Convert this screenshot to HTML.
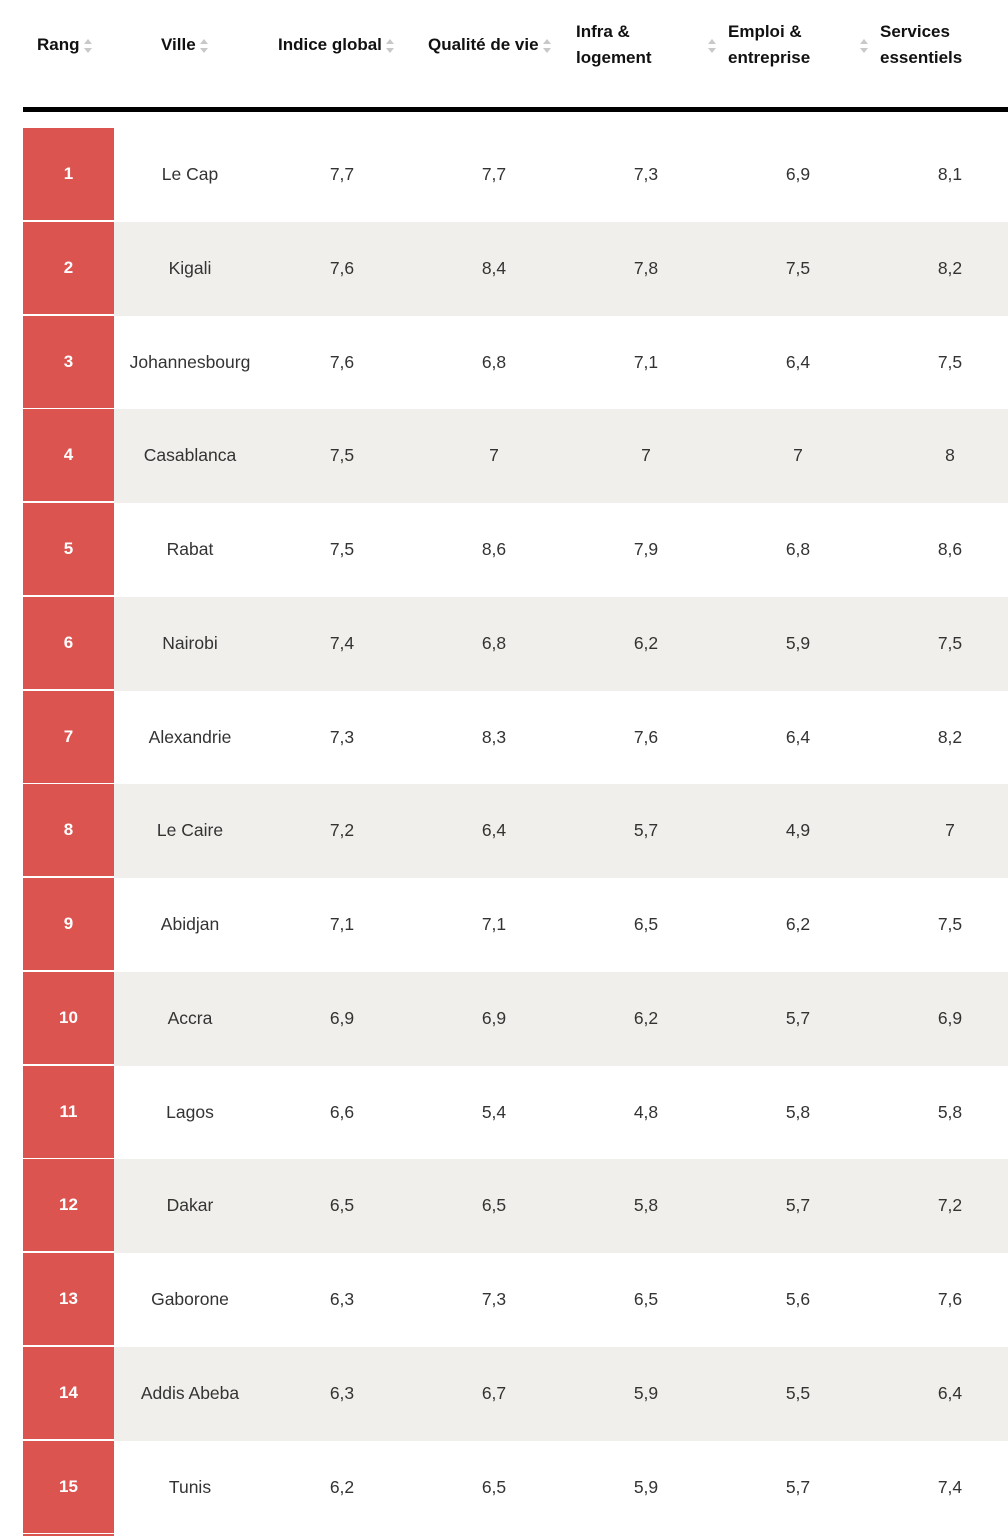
<!DOCTYPE html>
<html style="width:1008px;height:1536px;overflow:hidden"><head><meta charset="utf-8"><style>
*{margin:0;padding:0;box-sizing:border-box}
body{width:1008px;height:1536px;background:#fff;position:relative;overflow:hidden;font-family:"Liberation Sans",sans-serif}
.h{position:absolute;font-weight:bold;font-size:17px;color:#111;line-height:26px}
.s{display:inline-block;width:8px;height:14px;position:relative;vertical-align:middle;margin-left:4px}
.s:before,.s:after{content:"";position:absolute;left:0;border-left:4px solid transparent;border-right:4px solid transparent}
.s:before{top:0;border-bottom:5px solid #c8c8c8}
.s:after{bottom:0;border-top:5px solid #c8c8c8}
.row{position:absolute;left:0;width:1008px;height:94px}
.g{position:absolute;left:114px;right:0;top:0;height:94px;background:#f0efeb}
.r{position:absolute;left:23px;width:91px;top:0;height:92px;background:#dc5450;color:#fff;font-weight:bold;font-size:17px;text-align:center;line-height:92px}
.c{position:absolute;top:0;line-height:92px;font-size:17.5px;color:#333;text-align:center;width:152px}
</style></head><body>
<div class="h" style="left:37px;top:32px">Rang<span class="s"></span></div>
<div class="h" style="left:161px;top:32px">Ville<span class="s"></span></div>
<div class="h" style="left:278px;top:32px">Indice global<span class="s"></span></div>
<div class="h" style="left:428px;top:32px">Qualité de vie<span class="s"></span></div>
<div class="h" style="left:576px;top:19px">Infra &amp;<br>logement</div>
<span class="s" style="position:absolute;left:704px;top:39px"></span>
<div class="h" style="left:728px;top:19px">Emploi &amp;<br>entreprise</div>
<span class="s" style="position:absolute;left:856px;top:39px"></span>
<div class="h" style="left:880px;top:19px">Services<br>essentiels</div>
<div style="position:absolute;left:23px;right:0;top:107px;height:5px;background:#000"></div>
<div id="t"></div>
<script>
var d=[["Le Cap","7,7","7,7","7,3","6,9","8,1"],["Kigali","7,6","8,4","7,8","7,5","8,2"],["Johannesbourg","7,6","6,8","7,1","6,4","7,5"],["Casablanca","7,5","7","7","7","8"],["Rabat","7,5","8,6","7,9","6,8","8,6"],["Nairobi","7,4","6,8","6,2","5,9","7,5"],["Alexandrie","7,3","8,3","7,6","6,4","8,2"],["Le Caire","7,2","6,4","5,7","4,9","7"],["Abidjan","7,1","7,1","6,5","6,2","7,5"],["Accra","6,9","6,9","6,2","5,7","6,9"],["Lagos","6,6","5,4","4,8","5,8","5,8"],["Dakar","6,5","6,5","5,8","5,7","7,2"],["Gaborone","6,3","7,3","6,5","5,6","7,6"],["Addis Abeba","6,3","6,7","5,9","5,5","6,4"],["Tunis","6,2","6,5","5,9","5,7","7,4"]];
var h="";
d.forEach(function(r,i){
 var top=128+i*93.75;
 h+='<div class="row" style="top:'+top+'px">'+(i%2?'<div class="g"></div>':'')+'<div class="r">'+(i+1)+'</div>';
 var cx=[190,342,494,646,798,950];
 r.forEach(function(v,j){h+='<div class="c" style="left:'+(cx[j]-76)+'px">'+v+'</div>';});
 h+='</div>';
});
h+='<div style="position:absolute;left:23px;width:91px;top:1534px;height:2px;background:#dc5450"></div>';
document.getElementById("t").innerHTML=h;
</script>
</body></html>
